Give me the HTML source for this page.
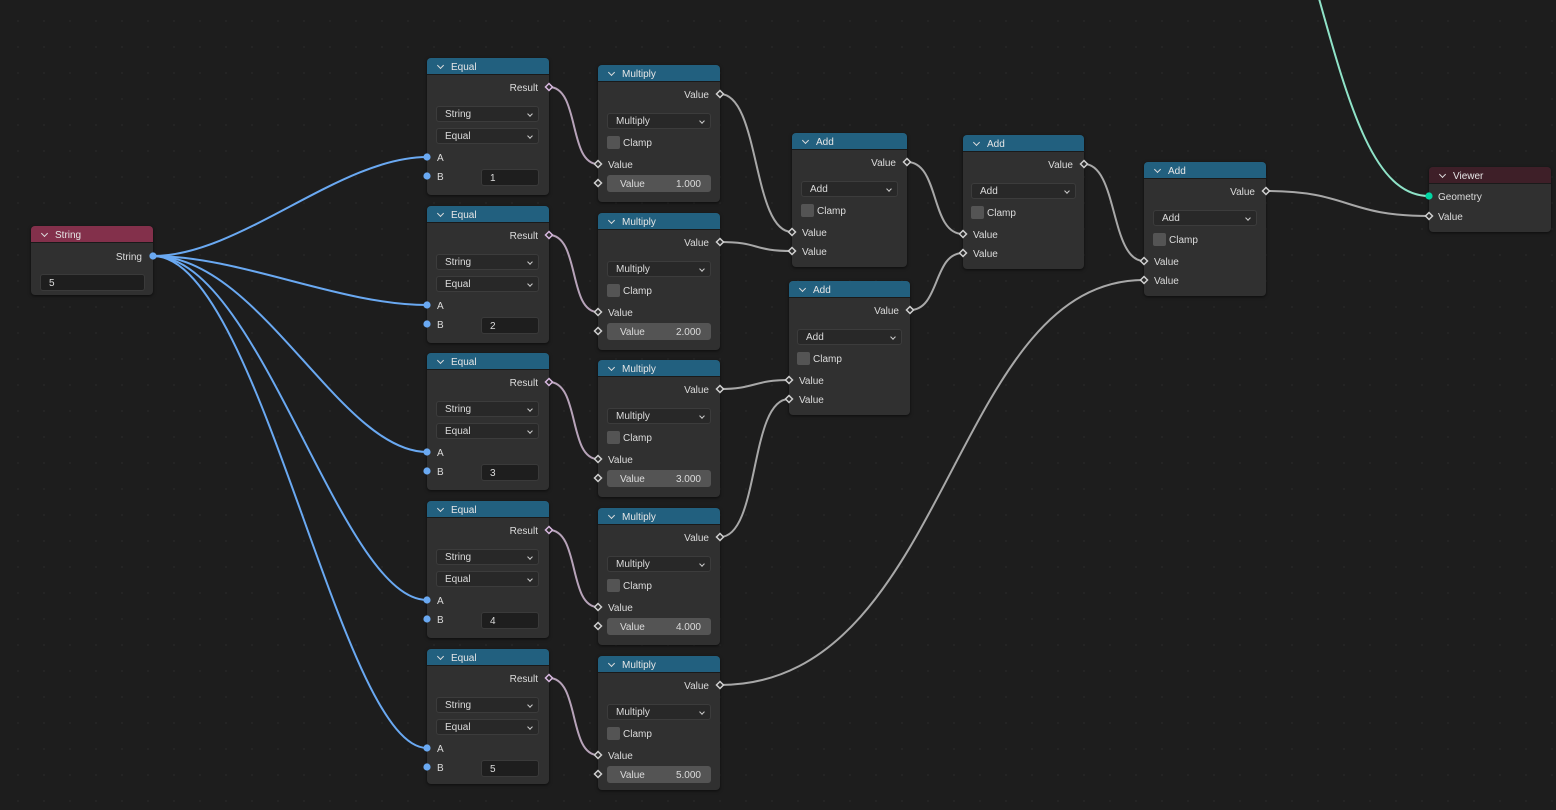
<!DOCTYPE html>
<html><head><meta charset="utf-8">
<style>
*{margin:0;padding:0;box-sizing:border-box}
body{width:1556px;height:810px;overflow:hidden;background:#1d1d1d;background-image:radial-gradient(circle,#242424 1px,transparent 1.3px);background-size:26px 26px;background-position:5px 8px;font-family:"Liberation Sans",sans-serif;font-size:10px;color:#dcdcdc;position:relative}
.n{position:absolute;background:#303030;border-radius:4px;box-shadow:0 1px 3px rgba(0,0,0,.6)}
.h{height:17px;background:#22607f;border-radius:4px 4px 0 0;padding-left:24px;line-height:19px;color:#e6e6e6;position:relative;border-bottom:1px solid #1a1a1a}
.h:before{content:"";position:absolute;left:11px;top:5px;width:4px;height:4px;border-right:1px solid #ddd;border-bottom:1px solid #ddd;transform:rotate(45deg)}
.l{position:absolute;line-height:12px;white-space:nowrap;margin-top:2px}
.r{right:11px;text-align:right}
.dd{position:absolute;height:16px;background:#282828;border:1px solid #3c3c3c;border-radius:3px;line-height:16px;padding-left:8px}
.dd:after{content:"";position:absolute;right:6px;top:5px;width:3px;height:3px;border-right:1px solid #ccc;border-bottom:1px solid #ccc;transform:rotate(45deg)}
.cb{position:absolute;width:13px;height:13px;background:#545454;border-radius:2px}
.f{position:absolute;height:17px;background:#1e1e1e;border:1px solid #3a3a3a;border-radius:3px;line-height:17px;padding-left:8px}
.sl{position:absolute;height:17px;background:#545454;border-radius:3px;line-height:19px}
.sl span{position:absolute}
svg{position:absolute;left:0;top:0}
</style></head><body>
<svg width="1556" height="810" fill="none" stroke-width="2">
<g stroke="#6aa9f2">
<path d="M153,256 C240,256 340,157 427,157"/>
<path d="M153,256 C240,256 340,305 427,305"/>
<path d="M153,256 C260,256 340,452 427,452"/>
<path d="M153,256 C260,256 340,600 427,600"/>
<path d="M153,256 C260,256 340,748 427,748"/>
</g>
<g stroke="#b7a3b9">
<path d="M549,87 C580,87 568,164 598,164"/>
<path d="M549,235 C580,235 568,312 598,312"/>
<path d="M549,382 C580,382 568,459 598,459"/>
<path d="M549,530 C580,530 568,607 598,607"/>
<path d="M549,678 C580,678 568,755 598,755"/>
</g>
<g stroke="#a8a8a8">
<path d="M720,94 C760,94 752,232 792,232"/>
<path d="M720,242 C760,242 752,251 792,251"/>
<path d="M720,389 C755,389 754,380 789,380"/>
<path d="M720,537 C760,537 749,399 789,399"/>
<path d="M907,162 C940,162 930,234 963,234"/>
<path d="M910,310 C940,310 933,253 963,253"/>
<path d="M1084,164 C1118,164 1110,261 1144,261"/>
<path d="M720,685 C950,685 950,280 1144,280"/>
<path d="M1266,191 C1350,191 1345,216 1429,216"/>
</g>
<path stroke="#8fe3c8" d="M1318,-5 C1350,110 1375,196 1429,196"/>
</svg>

<div class="n" style="left:31px;top:226px;width:122px;height:69px"><div class="h" style="background:#83304b">String</div>
<div class="l r" style="top:24px">String</div><div class="f" style="left:9px;top:48px;width:105px">5</div></div>

<div class="n" style="left:427px;top:58px;width:122px;height:137px"><div class="h">Equal</div><div class="l r" style="top:23px">Result</div><div class="dd" style="left:9px;top:48px;width:103px">String</div><div class="dd" style="left:9px;top:70px;width:103px">Equal</div><div class="l" style="left:10px;top:93px">A</div><div class="l" style="left:10px;top:112px">B</div><div class="f" style="left:54px;top:111px;width:58px">1</div></div>
<div class="n" style="left:427px;top:206px;width:122px;height:137px"><div class="h">Equal</div><div class="l r" style="top:23px">Result</div><div class="dd" style="left:9px;top:48px;width:103px">String</div><div class="dd" style="left:9px;top:70px;width:103px">Equal</div><div class="l" style="left:10px;top:93px">A</div><div class="l" style="left:10px;top:112px">B</div><div class="f" style="left:54px;top:111px;width:58px">2</div></div>
<div class="n" style="left:427px;top:353px;width:122px;height:137px"><div class="h">Equal</div><div class="l r" style="top:23px">Result</div><div class="dd" style="left:9px;top:48px;width:103px">String</div><div class="dd" style="left:9px;top:70px;width:103px">Equal</div><div class="l" style="left:10px;top:93px">A</div><div class="l" style="left:10px;top:112px">B</div><div class="f" style="left:54px;top:111px;width:58px">3</div></div>
<div class="n" style="left:427px;top:501px;width:122px;height:137px"><div class="h">Equal</div><div class="l r" style="top:23px">Result</div><div class="dd" style="left:9px;top:48px;width:103px">String</div><div class="dd" style="left:9px;top:70px;width:103px">Equal</div><div class="l" style="left:10px;top:93px">A</div><div class="l" style="left:10px;top:112px">B</div><div class="f" style="left:54px;top:111px;width:58px">4</div></div>
<div class="n" style="left:427px;top:649px;width:122px;height:135px"><div class="h">Equal</div><div class="l r" style="top:23px">Result</div><div class="dd" style="left:9px;top:48px;width:103px">String</div><div class="dd" style="left:9px;top:70px;width:103px">Equal</div><div class="l" style="left:10px;top:93px">A</div><div class="l" style="left:10px;top:112px">B</div><div class="f" style="left:54px;top:111px;width:58px">5</div></div>

<div class="n" style="left:598px;top:65px;width:122px;height:137px"><div class="h">Multiply</div><div class="l r" style="top:23px">Value</div><div class="dd" style="left:9px;top:48px;width:104px">Multiply</div><div class="cb" style="left:9px;top:71px"></div><div class="l" style="left:25px;top:71px">Clamp</div><div class="l" style="left:10px;top:93px">Value</div><div class="sl" style="left:9px;top:110px;width:104px"><span style="left:13px">Value</span><span style="right:10px">1.000</span></div></div>
<div class="n" style="left:598px;top:213px;width:122px;height:137px"><div class="h">Multiply</div><div class="l r" style="top:23px">Value</div><div class="dd" style="left:9px;top:48px;width:104px">Multiply</div><div class="cb" style="left:9px;top:71px"></div><div class="l" style="left:25px;top:71px">Clamp</div><div class="l" style="left:10px;top:93px">Value</div><div class="sl" style="left:9px;top:110px;width:104px"><span style="left:13px">Value</span><span style="right:10px">2.000</span></div></div>
<div class="n" style="left:598px;top:360px;width:122px;height:137px"><div class="h">Multiply</div><div class="l r" style="top:23px">Value</div><div class="dd" style="left:9px;top:48px;width:104px">Multiply</div><div class="cb" style="left:9px;top:71px"></div><div class="l" style="left:25px;top:71px">Clamp</div><div class="l" style="left:10px;top:93px">Value</div><div class="sl" style="left:9px;top:110px;width:104px"><span style="left:13px">Value</span><span style="right:10px">3.000</span></div></div>
<div class="n" style="left:598px;top:508px;width:122px;height:137px"><div class="h">Multiply</div><div class="l r" style="top:23px">Value</div><div class="dd" style="left:9px;top:48px;width:104px">Multiply</div><div class="cb" style="left:9px;top:71px"></div><div class="l" style="left:25px;top:71px">Clamp</div><div class="l" style="left:10px;top:93px">Value</div><div class="sl" style="left:9px;top:110px;width:104px"><span style="left:13px">Value</span><span style="right:10px">4.000</span></div></div>
<div class="n" style="left:598px;top:656px;width:122px;height:134px"><div class="h">Multiply</div><div class="l r" style="top:23px">Value</div><div class="dd" style="left:9px;top:48px;width:104px">Multiply</div><div class="cb" style="left:9px;top:71px"></div><div class="l" style="left:25px;top:71px">Clamp</div><div class="l" style="left:10px;top:93px">Value</div><div class="sl" style="left:9px;top:110px;width:104px"><span style="left:13px">Value</span><span style="right:10px">5.000</span></div></div>

<div class="n" style="left:792px;top:133px;width:115px;height:134px"><div class="h">Add</div><div class="l r" style="top:23px">Value</div><div class="dd" style="left:9px;top:48px;width:97px">Add</div><div class="cb" style="left:9px;top:71px"></div><div class="l" style="left:25px;top:71px">Clamp</div><div class="l" style="left:10px;top:93px">Value</div><div class="l" style="left:10px;top:112px">Value</div></div>
<div class="n" style="left:963px;top:135px;width:121px;height:134px"><div class="h">Add</div><div class="l r" style="top:23px">Value</div><div class="dd" style="left:8px;top:48px;width:105px">Add</div><div class="cb" style="left:8px;top:71px"></div><div class="l" style="left:24px;top:71px">Clamp</div><div class="l" style="left:10px;top:93px">Value</div><div class="l" style="left:10px;top:112px">Value</div></div>
<div class="n" style="left:789px;top:281px;width:121px;height:134px"><div class="h">Add</div><div class="l r" style="top:23px">Value</div><div class="dd" style="left:8px;top:48px;width:105px">Add</div><div class="cb" style="left:8px;top:71px"></div><div class="l" style="left:24px;top:71px">Clamp</div><div class="l" style="left:10px;top:93px">Value</div><div class="l" style="left:10px;top:112px">Value</div></div>
<div class="n" style="left:1144px;top:162px;width:122px;height:134px"><div class="h">Add</div><div class="l r" style="top:23px">Value</div><div class="dd" style="left:9px;top:48px;width:104px">Add</div><div class="cb" style="left:9px;top:71px"></div><div class="l" style="left:25px;top:71px">Clamp</div><div class="l" style="left:10px;top:93px">Value</div><div class="l" style="left:10px;top:112px">Value</div></div>

<div class="n" style="left:1429px;top:167px;width:122px;height:65px"><div class="h" style="background:#3e1f28">Viewer</div><div class="l" style="left:9px;top:23px">Geometry</div><div class="l" style="left:9px;top:43px">Value</div></div>

<svg width="1556" height="810">
<g fill="#6aa9f2">
<circle cx="153" cy="256" r="3.6"/>
<circle cx="427" cy="157" r="3.6"/><circle cx="427" cy="176" r="3.6"/>
<circle cx="427" cy="305" r="3.6"/><circle cx="427" cy="324" r="3.6"/>
<circle cx="427" cy="452" r="3.6"/><circle cx="427" cy="471" r="3.6"/>
<circle cx="427" cy="600" r="3.6"/><circle cx="427" cy="619" r="3.6"/>
<circle cx="427" cy="748" r="3.6"/><circle cx="427" cy="767" r="3.6"/>
</g>
<circle cx="1429" cy="196" r="3.6" fill="#00d6a3"/>
<g fill="#2a2a2a" stroke="#d8b8e0" stroke-width="1.5">
<path d="M549,83.5 l3.5,3.5 l-3.5,3.5 l-3.5,-3.5z"/>
<path d="M549,231.5 l3.5,3.5 l-3.5,3.5 l-3.5,-3.5z"/>
<path d="M549,378.5 l3.5,3.5 l-3.5,3.5 l-3.5,-3.5z"/>
<path d="M549,526.5 l3.5,3.5 l-3.5,3.5 l-3.5,-3.5z"/>
<path d="M549,674.5 l3.5,3.5 l-3.5,3.5 l-3.5,-3.5z"/>
</g>
<g fill="#2a2a2a" stroke="#cfcfcf" stroke-width="1.5">
<path d="M720,90.5 l3.5,3.5 l-3.5,3.5 l-3.5,-3.5z"/><path d="M598,160.5 l3.5,3.5 l-3.5,3.5 l-3.5,-3.5z"/><path d="M598,179.5 l3.5,3.5 l-3.5,3.5 l-3.5,-3.5z"/>
<path d="M720,238.5 l3.5,3.5 l-3.5,3.5 l-3.5,-3.5z"/><path d="M598,308.5 l3.5,3.5 l-3.5,3.5 l-3.5,-3.5z"/><path d="M598,327.5 l3.5,3.5 l-3.5,3.5 l-3.5,-3.5z"/>
<path d="M720,385.5 l3.5,3.5 l-3.5,3.5 l-3.5,-3.5z"/><path d="M598,455.5 l3.5,3.5 l-3.5,3.5 l-3.5,-3.5z"/><path d="M598,474.5 l3.5,3.5 l-3.5,3.5 l-3.5,-3.5z"/>
<path d="M720,533.5 l3.5,3.5 l-3.5,3.5 l-3.5,-3.5z"/><path d="M598,603.5 l3.5,3.5 l-3.5,3.5 l-3.5,-3.5z"/><path d="M598,622.5 l3.5,3.5 l-3.5,3.5 l-3.5,-3.5z"/>
<path d="M720,681.5 l3.5,3.5 l-3.5,3.5 l-3.5,-3.5z"/><path d="M598,751.5 l3.5,3.5 l-3.5,3.5 l-3.5,-3.5z"/><path d="M598,770.5 l3.5,3.5 l-3.5,3.5 l-3.5,-3.5z"/>
<path d="M907,158.5 l3.5,3.5 l-3.5,3.5 l-3.5,-3.5z"/><path d="M792,228.5 l3.5,3.5 l-3.5,3.5 l-3.5,-3.5z"/><path d="M792,247.5 l3.5,3.5 l-3.5,3.5 l-3.5,-3.5z"/>
<path d="M1084,160.5 l3.5,3.5 l-3.5,3.5 l-3.5,-3.5z"/><path d="M963,230.5 l3.5,3.5 l-3.5,3.5 l-3.5,-3.5z"/><path d="M963,249.5 l3.5,3.5 l-3.5,3.5 l-3.5,-3.5z"/>
<path d="M910,306.5 l3.5,3.5 l-3.5,3.5 l-3.5,-3.5z"/><path d="M789,376.5 l3.5,3.5 l-3.5,3.5 l-3.5,-3.5z"/><path d="M789,395.5 l3.5,3.5 l-3.5,3.5 l-3.5,-3.5z"/>
<path d="M1266,187.5 l3.5,3.5 l-3.5,3.5 l-3.5,-3.5z"/><path d="M1144,257.5 l3.5,3.5 l-3.5,3.5 l-3.5,-3.5z"/><path d="M1144,276.5 l3.5,3.5 l-3.5,3.5 l-3.5,-3.5z"/>
<path d="M1429,212.5 l3.5,3.5 l-3.5,3.5 l-3.5,-3.5z"/>
</g>
</svg>
</body></html>
